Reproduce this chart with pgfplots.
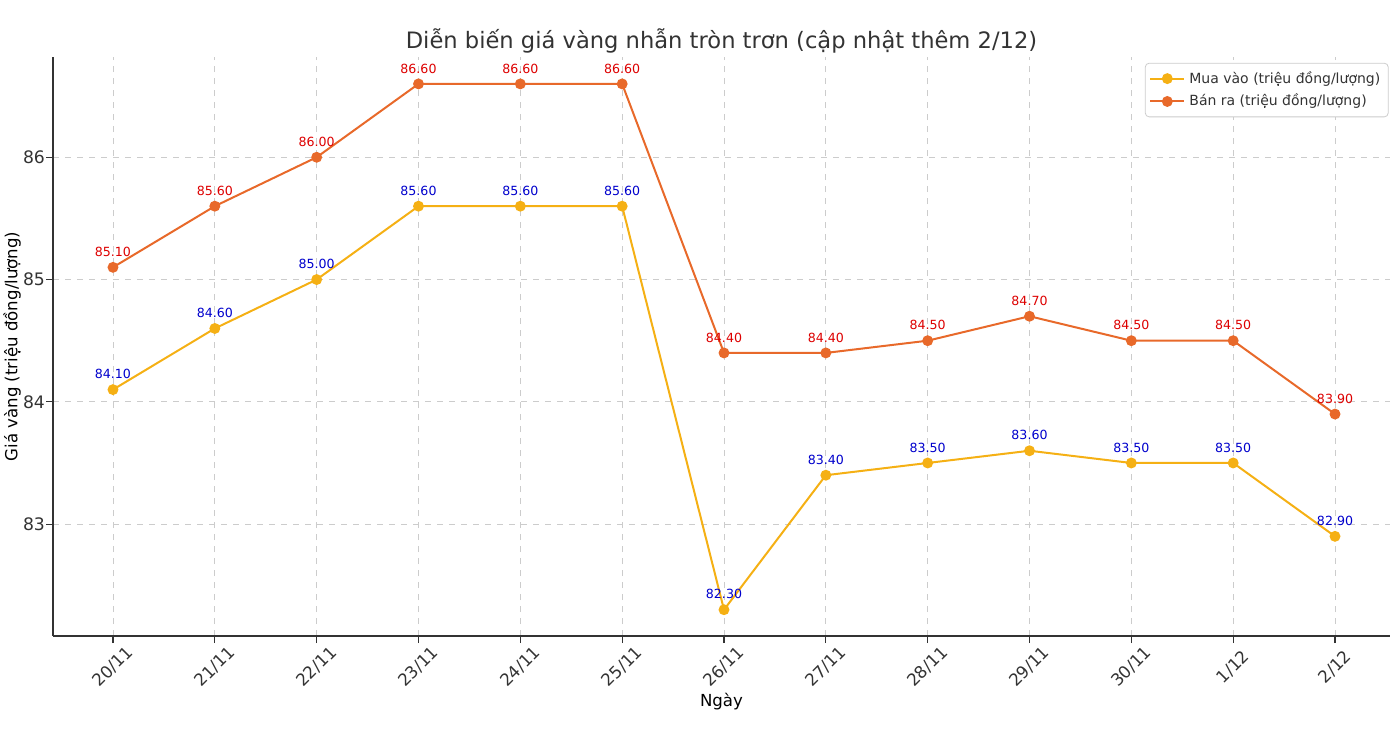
\documentclass[border=0pt]{standalone}
\usepackage{fontspec}
\setmainfont{DejaVu Sans}
\usepackage{pgfplots}
\pgfplotsset{compat=1.18}
\definecolor{muac}{HTML}{F5B014}
\definecolor{banc}{HTML}{E8692A}
\definecolor{lblblue}{HTML}{0000CC}
\definecolor{lblred}{HTML}{DD0000}
\definecolor{axc}{HTML}{333333}
\begin{document}
\begin{tikzpicture}
\path[use as bounding box] (-26.5pt,-49.5pt) rectangle (669pt,318pt);
\begin{axis}[
  scale only axis,
  width=668.5pt, height=289.5pt,
  xmin=-0.589, xmax=12.54,
  ymin=82.085, ymax=86.82,
  axis lines*=left,
  axis line style={axc, line width=0.8pt},
  xtick={0,...,12},
  xticklabels={20/11,21/11,22/11,23/11,24/11,25/11,26/11,27/11,28/11,29/11,30/11,1/12,2/12},
  ytick={83,84,85,86},
  tick align=outside,
  tick style={axc, line width=0.6pt},
  major tick length=3.5pt,
  x tick label style={yshift=-12pt, rotate=45, anchor=center, font=\fontsize{8.4}{10}\selectfont, text=axc, inner sep=0pt},
  y tick label style={font=\fontsize{8.6}{10}\selectfont, text=axc, xshift=3pt},
  /pgf/number format/assume math mode=true,
  grid=major,
  grid style={dashed, gray!40, line width=0.4pt},
  xlabel={Ngày},
  ylabel={Giá vàng (triệu đồng/lượng)},
  label style={font=\fontsize{8.3}{9}\selectfont, text=black},
  xlabel style={at={(axis description cs:0.5,0)}, anchor=center, yshift=-33pt},
  ylabel style={at={(axis description cs:-0.0307,0.5)}, anchor=center, rotate=0},
  title={Diễn biến giá vàng nhẫn tròn trơn (cập nhật thêm 2/12)},
  title style={font=\fontsize{11.3}{13}\selectfont, text=axc, at={(axis description cs:0.5,1)}, anchor=center, yshift=2pt},
  legend style={at={(0.999,0.99)}, anchor=north east, font=\fontsize{7}{8}\selectfont, draw=gray!40, rounded corners=2pt, row sep=0pt, inner sep=2pt, text=axc},
  legend cell align=left,
  nodes near coords={\pgfmathprintnumber[fixed,fixed zerofill,precision=2]{\pgfplotspointmeta}},
  point meta=y,
  every node near coord/.append style={font=\fontsize{6.3}{7}\selectfont, anchor=south, yshift=1.5pt, /pgf/number format/assume math mode=true},
]
\addplot[muac, line width=1pt, mark=*, mark size=2.2pt, every node near coord/.append style={text=lblblue}] coordinates {
(0,84.1) (1,84.6) (2,85.0) (3,85.6) (4,85.6) (5,85.6) (6,82.3) (7,83.4) (8,83.5) (9,83.6) (10,83.5) (11,83.5) (12,82.9)};
\addlegendentry{Mua vào (triệu đồng/lượng)}
\addplot[banc, line width=1pt, mark=*, mark size=2.2pt, every node near coord/.append style={text=lblred}] coordinates {
(0,85.1) (1,85.6) (2,86.0) (3,86.6) (4,86.6) (5,86.6) (6,84.4) (7,84.4) (8,84.5) (9,84.7) (10,84.5) (11,84.5) (12,83.9)};
\addlegendentry{Bán ra (triệu đồng/lượng)}
\end{axis}
\end{tikzpicture}
\end{document}
